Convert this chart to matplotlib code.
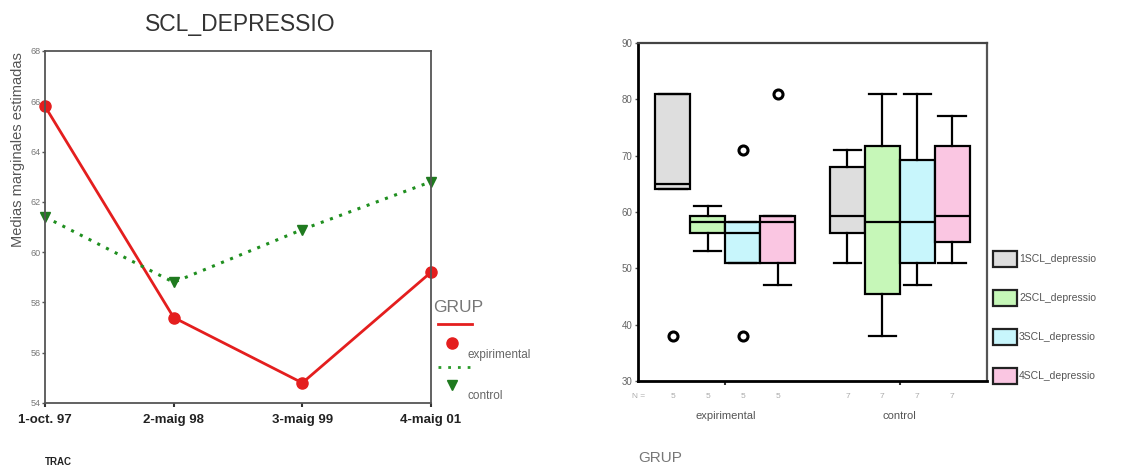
import numpy as np
import matplotlib
matplotlib.use("Agg")
import matplotlib.pyplot as plt
from matplotlib.lines import Line2D
from matplotlib.patches import Patch

plt.rcParams['font.family'] = ['Liberation Sans', 'DejaVu Sans']

# medias marginales estimadas per tram
trams = ["1-oct. 97", "2-maig 98", "3-maig 99", "4-maig 01"]
mitj_expirimental = [65.8, 57.4, 54.8, 59.2]
mitj_control = [61.4, 58.8, 60.9, 62.8]

# estadistics de les caixes (ordre: 1..4 SCL_depressio)
grups = ["expirimental", "control"]
n_grup = [5, 7]
variables = ["1SCL_depressio", "2SCL_depressio", "3SCL_depressio", "4SCL_depressio"]
colors_var = ["#DEDEDE", "#C6F7B8", "#C8F6FC", "#FAC6E2"]

exp_whislo = [64, 53, 51, 47]
exp_q1 = [64, 56.3, 51, 51]
exp_med = [65, 58.3, 56.3, 58.3]
exp_q3 = [81, 59.3, 58.3, 59.3]
exp_whishi = [81, 61, 58.3, 59.3]
exp_outliers = [[38], [], [71, 38], [81]]

ctl_whislo = [51, 38, 47, 51]
ctl_q1 = [56.3, 45.5, 51, 54.7]
ctl_med = [59.3, 58.3, 58.3, 59.3]
ctl_q3 = [68, 71.7, 69.2, 71.7]
ctl_whishi = [71, 81, 81, 77]
ctl_outliers = [[], [], [], []]

W, H = 1122, 471
fig = plt.figure(figsize=(W / 100, H / 100), dpi=100)

# ---- grafic de linies ----
ax1 = fig.add_axes([45 / W, 1 - 403 / H, 386 / W, 352 / H])
x = np.arange(len(trams))
ax1.plot(x, mitj_expirimental, color="#E41E1E", lw=2.0, marker="o", ms=8,
         markeredgecolor="#E41E1E", markerfacecolor="#E41E1E")
ax1.plot(x, mitj_control, color="#1F8F1F", lw=2.2, ls=(0, (1, 2.2)), marker="v", ms=7,
         markeredgecolor="#1F7A1F", markerfacecolor="#1F7A1F")
ax1.set_xlim(0, 3)
ax1.set_ylim(54, 68)
ax1.set_yticks(np.arange(54, 69, 2))
ax1.set_yticklabels([str(v) for v in range(54, 69, 2)], fontsize=6.5, color="#777777")
ax1.set_xticks(x)
ax1.set_xticklabels(trams, fontsize=9.5, fontweight="bold", color="#222222")
ax1.tick_params(axis="y", length=2, width=1, pad=1, color="#555555")
ax1.tick_params(axis="x", length=3, width=1.5, pad=5, color="#333333")
for s in ax1.spines.values():
    s.set_color("#555555")
    s.set_linewidth(1.3)
for ln in ax1.lines:
    ln.set_clip_on(False)

fig.text(240 / W, 1 - 24 / H, "SCL_DEPRESSIO", fontsize=16.5, color="#333333",
         ha="center", va="center")
fig.text(18 / W, 1 - 150 / H, "Medias marginales estimadas", fontsize=10.5,
         color="#555555", rotation=90, ha="center", va="center")
fig.text(45 / W, 1 - 462 / H, "TRAC", fontsize=7, fontweight="bold",
         color="#222222", ha="left", va="center")

# llegenda GRUP
fig.text(433 / W, 1 - 307 / H, "GRUP", fontsize=12.5, color="#777777",
         ha="left", va="center")
fig.add_artist(Line2D([438 / W, 472 / W], [1 - 324 / H] * 2, color="#E41E1E", lw=2.0))
fig.add_artist(Line2D([452 / W], [1 - 343 / H], marker="o", ms=8, color="#E41E1E"))
fig.text(468 / W, 1 - 355 / H, grups[0], fontsize=8.5, color="#666666",
         ha="left", va="center")
fig.add_artist(Line2D([438 / W, 472 / W], [1 - 367 / H] * 2, color="#2A9A2A", lw=2.0,
                      ls=(0, (1, 2.5))))
fig.add_artist(Line2D([452 / W], [1 - 385 / H], marker="v", ms=7, color="#1F7A1F"))
fig.text(468 / W, 1 - 396 / H, grups[1], fontsize=8.5, color="#666666",
         ha="left", va="center")

# ---- diagrama de caixes ----
ax2 = fig.add_axes([638 / W, 1 - 381 / H, 349 / W, 338 / H])
stats = []
positions = []
for g, (lo, q1, md, q3, hi, fl) in enumerate([
        (exp_whislo, exp_q1, exp_med, exp_q3, exp_whishi, exp_outliers),
        (ctl_whislo, ctl_q1, ctl_med, ctl_q3, ctl_whishi, ctl_outliers)]):
    for i in range(len(variables)):
        stats.append(dict(whislo=lo[i], q1=q1[i], med=md[i], q3=q3[i],
                          whishi=hi[i], fliers=fl[i]))
        positions.append(1 + g * 5 + i)

bp = ax2.bxp(stats, positions=positions, widths=1.0, capwidths=0.78,
             patch_artist=True, showfliers=True,
             boxprops=dict(edgecolor="black", linewidth=1.6),
             medianprops=dict(color="black", linewidth=1.6),
             whiskerprops=dict(color="black", linewidth=1.6),
             capprops=dict(color="black", linewidth=1.6),
             flierprops=dict(marker="o", markersize=6.5, markerfacecolor="white",
                             markeredgecolor="black", markeredgewidth=2.2))
for k, box in enumerate(bp["boxes"]):
    box.set_facecolor(colors_var[k % 4])

ax2.set_xlim(0, 10)
ax2.set_ylim(30, 90)
ax2.set_yticks(np.arange(30, 91, 10))
ax2.set_yticklabels([str(v) for v in range(30, 91, 10)], fontsize=7, color="#666666")
ax2.tick_params(axis="y", length=2, width=1, pad=2, color="#555555")
ax2.set_xticks([2.5, 7.5])
ax2.set_xticklabels([])
ax2.tick_params(axis="x", length=3, width=1.5, color="#333333")
ax2.spines["left"].set_linewidth(2)
ax2.spines["bottom"].set_linewidth(2)
ax2.spines["left"].set_color("black")
ax2.spines["bottom"].set_color("black")
ax2.spines["top"].set_color("#444444")
ax2.spines["right"].set_color("#555555")
ax2.spines["top"].set_linewidth(1.6)
ax2.spines["right"].set_linewidth(1.6)

# recomptes N i noms de grup sota l'eix
tr = ax2.get_xaxis_transform()
ax2.text(0.2, -0.035, "N =", transform=tr, fontsize=6, color="#AAAAAA",
         ha="right", va="top")
for g in range(len(grups)):
    for i in range(len(variables)):
        ax2.text(1 + g * 5 + i, -0.035, str(n_grup[g]), transform=tr, fontsize=6,
                 color="#AAAAAA", ha="center", va="top")
    ax2.text(2.5 + g * 5, -0.105, grups[g], transform=tr, fontsize=8,
             color="#555555", ha="center", va="center")
fig.text(638 / W, 1 - 458 / H, "GRUP", fontsize=11, color="#777777",
         ha="left", va="center")

handles = [Patch(facecolor=c, edgecolor="#222222", linewidth=1.6) for c in colors_var]
fig.legend(handles, variables, loc="upper left",
           bbox_to_anchor=(993 / W, 1 - 251 / H), frameon=False,
           fontsize=7.5, labelcolor="#555555",
           handlelength=2.3, handleheight=2.0, handletextpad=0.2,
           labelspacing=2.2, borderaxespad=0, borderpad=0)

fig.savefig("out.png", dpi=100)
